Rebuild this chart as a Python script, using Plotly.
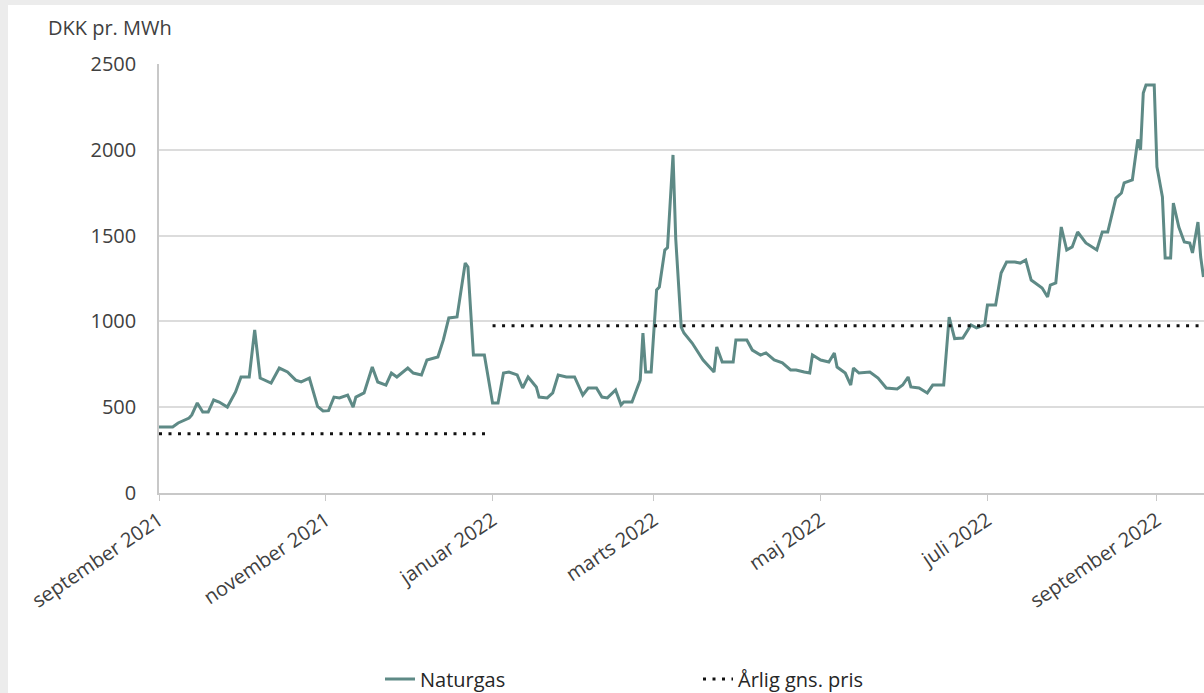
import plotly.graph_objects as go

# Naturgas price (DKK pr. MWh)
dates = [
    "2021-09-01", "2021-09-06", "2021-09-08", "2021-09-12", "2021-09-13", "2021-09-15",
    "2021-09-17", "2021-09-19", "2021-09-21", "2021-09-23", "2021-09-26", "2021-09-29",
    "2021-10-01", "2021-10-04", "2021-10-06", "2021-10-08", "2021-10-12", "2021-10-15",
    "2021-10-18", "2021-10-21", "2021-10-23", "2021-10-26", "2021-10-29", "2021-10-31",
    "2021-11-02", "2021-11-04", "2021-11-06", "2021-11-09", "2021-11-11", "2021-11-12",
    "2021-11-15", "2021-11-18", "2021-11-20", "2021-11-23", "2021-11-25", "2021-11-27",
    "2021-12-01", "2021-12-03", "2021-12-06", "2021-12-08", "2021-12-12", "2021-12-14",
    "2021-12-16", "2021-12-19", "2021-12-22", "2021-12-23", "2021-12-25", "2021-12-29",
    "2022-01-01", "2022-01-03", "2022-01-05", "2022-01-07", "2022-01-10", "2022-01-12",
    "2022-01-14", "2022-01-17", "2022-01-18", "2022-01-21", "2022-01-23", "2022-01-25",
    "2022-01-28", "2022-01-31", "2022-02-03", "2022-02-05", "2022-02-08", "2022-02-10",
    "2022-02-12", "2022-02-15", "2022-02-17", "2022-02-18", "2022-02-21", "2022-02-24",
    "2022-02-25", "2022-02-26", "2022-02-28", "2022-03-02", "2022-03-03", "2022-03-05",
    "2022-03-06", "2022-03-08", "2022-03-09", "2022-03-11", "2022-03-12", "2022-03-15",
    "2022-03-19", "2022-03-23", "2022-03-24", "2022-03-26", "2022-03-30", "2022-03-31",
    "2022-04-04", "2022-04-06", "2022-04-09", "2022-04-11", "2022-04-14", "2022-04-17",
    "2022-04-20", "2022-04-22", "2022-04-25", "2022-04-27", "2022-04-28", "2022-05-01",
    "2022-05-04", "2022-05-06", "2022-05-07", "2022-05-10", "2022-05-12", "2022-05-13",
    "2022-05-15", "2022-05-19", "2022-05-22", "2022-05-25", "2022-05-29", "2022-05-31",
    "2022-06-02", "2022-06-03", "2022-06-06", "2022-06-09", "2022-06-11", "2022-06-15",
    "2022-06-17", "2022-06-19", "2022-06-22", "2022-06-25", "2022-06-27", "2022-06-30",
    "2022-07-01", "2022-07-04", "2022-07-06", "2022-07-08", "2022-07-11", "2022-07-13",
    "2022-07-15", "2022-07-17", "2022-07-21", "2022-07-23", "2022-07-24", "2022-07-26",
    "2022-07-28", "2022-07-30", "2022-08-01", "2022-08-03", "2022-08-06", "2022-08-10",
    "2022-08-12", "2022-08-14", "2022-08-17", "2022-08-19", "2022-08-20", "2022-08-23",
    "2022-08-25", "2022-08-26", "2022-08-27", "2022-08-28", "2022-08-31", "2022-09-01",
    "2022-09-03", "2022-09-04", "2022-09-06", "2022-09-07", "2022-09-09", "2022-09-11",
    "2022-09-13", "2022-09-14", "2022-09-16", "2022-09-17", "2022-09-18",
]
naturgas = [
    385, 385, 408, 437, 455, 525,
    472, 472, 542, 530, 501, 589,
    676, 676, 950, 670, 641, 728,
    705, 658, 647, 670, 505, 478,
    480, 559, 554, 571, 501, 559,
    583, 734, 647, 629, 699, 676,
    728, 699, 688, 775, 793, 892,
    1020, 1026, 1340, 1317, 804, 804,
    524, 524, 699, 705, 688, 612,
    676, 618, 559, 554, 583, 688,
    676, 676, 571, 612, 612, 559,
    554, 600, 513, 530, 530, 658,
    932, 705, 705, 1183, 1200, 1416,
    1430, 1970, 1480, 967, 932, 874,
    775, 705, 851, 763, 763, 892,
    892, 833, 804, 816, 775, 758,
    717, 717, 705, 699, 804, 775,
    763, 816, 734, 699, 629, 728,
    699, 705, 670, 612, 606, 629,
    676, 618, 612, 583, 629, 629,
    1025, 900, 903, 979, 962, 979,
    1096, 1096, 1282, 1346, 1346, 1340,
    1358, 1241, 1195, 1142, 1212, 1224,
    1550, 1416, 1434, 1521, 1457, 1416,
    1521, 1521, 1719, 1748, 1807, 1824,
    2060, 2000, 2331, 2378, 2378, 1900,
    1725, 1370, 1370, 1690, 1550, 1463,
    1457, 1399, 1579, 1375, 1259,
]

# Annual average price (Årlig gns. pris)
avg_dates_2021 = ["2021-09-01", "2021-12-31"]
avg_values_2021 = [345, 345]
avg_dates_2022 = ["2022-01-01", "2022-09-19"]
avg_values_2022 = [975, 975]

tick_vals = ["2021-09-01", "2021-11-01", "2022-01-01", "2022-03-01",
             "2022-05-01", "2022-07-01", "2022-09-01"]
tick_text = ["september 2021", "november 2021", "januar 2022", "marts 2022",
             "maj 2022", "juli 2022", "september 2022"]

FONT = "Open Sans, Lato, sans-serif"
LINE_COLOR = "#5e8a86"
TEXT_COLOR = "#404040"
FRAME = "#ececec"

fig = go.Figure()
fig.add_trace(go.Scatter(
    x=dates, y=naturgas, mode="lines", name="Naturgas",
    line=dict(color=LINE_COLOR, width=3), legend="legend",
))
fig.add_trace(go.Scatter(
    x=avg_dates_2021, y=avg_values_2021, mode="lines", name="Årlig gns. pris",
    line=dict(color="#111111", width=3, dash="3px,6.5px"), legend="legend2",
))
fig.add_trace(go.Scatter(
    x=avg_dates_2022, y=avg_values_2022, mode="lines", name="Årlig gns. pris",
    line=dict(color="#111111", width=3, dash="3px,6.5px"), showlegend=False,
))

W, H = 1204, 693
L, R, T, B = 159, 0, 64, 200
pw, ph = W - L - R, H - T - B

def px_x(x):
    return (x - L) / pw

def px_y(y):
    return (H - B - y) / ph

fig.update_layout(
    width=W, height=H,
    margin=dict(l=L, r=R, t=T, b=B, autoexpand=False),
    paper_bgcolor="white",
    plot_bgcolor="white",
    font=dict(family=FONT, size=20, color=TEXT_COLOR),
    shapes=[
        dict(type="rect", xref="paper", yref="paper",
             x0=px_x(-5), x1=px_x(1210), y0=px_y(5), y1=px_y(-5),
             fillcolor=FRAME, line=dict(width=0), layer="below"),
        dict(type="rect", xref="paper", yref="paper",
             x0=px_x(-5), x1=px_x(8), y0=px_y(700), y1=px_y(-5),
             fillcolor=FRAME, line=dict(width=0), layer="below"),
    ],
    annotations=[dict(text="DKK pr. MWh", xref="paper", yref="paper",
                      x=px_x(46), y=px_y(28), xanchor="left", yanchor="middle",
                      showarrow=False, font=dict(size=20, color=TEXT_COLOR))],
    legend=dict(orientation="h", x=px_x(380), y=px_y(679), xanchor="left",
                yanchor="middle", bgcolor="rgba(0,0,0,0)",
                font=dict(size=20, color="#262626")),
    legend2=dict(orientation="h", x=px_x(698), y=px_y(679), xanchor="left",
                 yanchor="middle", bgcolor="rgba(0,0,0,0)",
                 font=dict(size=20, color="#262626")),
)
fig.update_xaxes(
    type="date", range=["2021-09-01", "2022-09-18 05:00"],
    tickvals=tick_vals, ticktext=tick_text, tickangle=-34,
    showgrid=False, showline=True, linecolor="#c8c8c8", linewidth=1.5,
    ticks="outside", ticklen=6, tickcolor="#c8c8c8",
    tickfont=dict(size=20, color=TEXT_COLOR),
)
fig.update_yaxes(
    range=[0, 2500], dtick=500, showgrid=True, gridcolor="#dcdcdc", gridwidth=1.5,
    showline=True, linecolor="#c8c8c8", linewidth=1.5, zeroline=False,
    ticks="", ticklabelstandoff=17,
    tickfont=dict(size=20, color=TEXT_COLOR),
)

fig.write_html("out.html", config={"displayModeBar": False},
               post_script="document.body.style.margin='0px';")
